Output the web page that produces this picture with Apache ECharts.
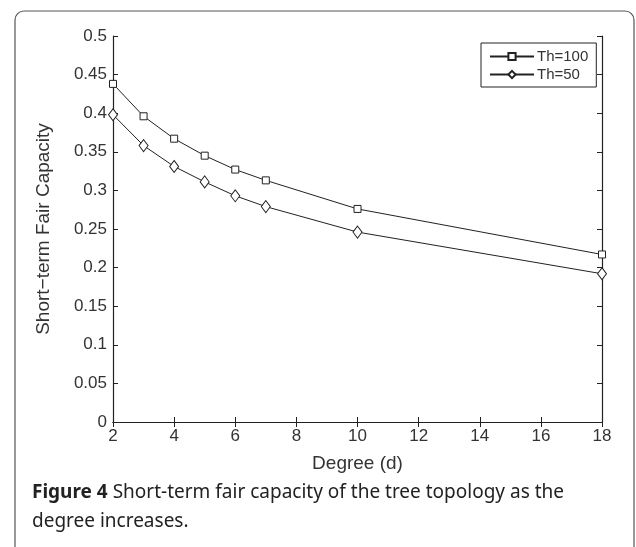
<!DOCTYPE html>
<html>
<head>
<meta charset="utf-8">
<script src="https://cdn.jsdelivr.net/npm/echarts@6/dist/echarts.min.js"></script>
<style>
  html, body { margin: 0; padding: 0; background: #fff; }
  #chart { width: 636px; height: 547px; }
</style>
</head>
<body>
<div id="chart"></div>
<script>
// degree values on the x axis
const degrees = [2, 3, 4, 5, 6, 7, 10, 18]
// short-term fair capacity, one array per threshold
const th100 = [0.438, 0.396, 0.367, 0.345, 0.327, 0.313, 0.276, 0.217]
const th50 = [0.398, 0.358, 0.331, 0.311, 0.293, 0.279, 0.246, 0.192]
const seriesNames = ['Th=100', 'Th=50']

const axisColor = '#222'
const textColor = '#333'
const labelFont = 'Liberation Sans'

const chart = echarts.init(document.getElementById('chart'), null, { renderer: 'canvas' })

function pairs(ys) {
  return degrees.map((d, i) => [d, ys[i]])
}

const tickStyle = { show: true, inside: true, length: 5, lineStyle: { color: axisColor } }

chart.setOption({
  animation: false,
  backgroundColor: '#fff',
  grid: { left: 113, top: 36, right: 34, bottom: 125 },
  legend: {
    left: 481,
    top: 43,
    orient: 'vertical',
    itemWidth: 44,
    itemHeight: 9,
    itemGap: 3,
    padding: [6, 8, 5, 8],
    borderColor: axisColor,
    borderWidth: 1,
    backgroundColor: '#fff',
    textStyle: { fontFamily: labelFont, fontSize: 15, color: textColor, padding: [0, 0, 0, -2] },
    data: seriesNames
  },
  xAxis: [{
    type: 'value',
    min: 2,
    max: 18,
    interval: 2,
    name: 'Degree (d)',
    nameLocation: 'middle',
    nameGap: 32,
    nameTextStyle: { fontFamily: labelFont, fontSize: 19, color: textColor },
    axisLine: { lineStyle: { color: axisColor, width: 1.2 } },
    axisTick: tickStyle,
    axisLabel: { fontFamily: labelFont, fontSize: 17, color: textColor, margin: 6 },
    splitLine: { show: false }
  }, {
    type: 'value',
    position: 'top',
    min: 2,
    max: 18,
    interval: 2,
    axisLine: { show: true, lineStyle: { color: axisColor, width: 1.2 } },
    axisTick: tickStyle,
    axisLabel: { show: false },
    splitLine: { show: false }
  }],
  yAxis: [{
    type: 'value',
    min: 0,
    max: 0.5,
    interval: 0.05,
    name: 'Short\u2212term Fair Capacity',
    nameLocation: 'middle',
    nameGap: 60,
    nameTextStyle: { fontFamily: labelFont, fontSize: 19, color: textColor },
    axisLine: { show: true, lineStyle: { color: axisColor, width: 1.2 } },
    axisTick: tickStyle,
    axisLabel: {
      fontFamily: labelFont, fontSize: 17, color: textColor, margin: 6,
      formatter: v => String(+v.toFixed(2))
    },
    splitLine: { show: false }
  }, {
    type: 'value',
    position: 'right',
    min: 0,
    max: 0.5,
    interval: 0.05,
    axisLine: { show: true, lineStyle: { color: axisColor, width: 1.2 } },
    axisTick: tickStyle,
    axisLabel: { show: false },
    splitLine: { show: false }
  }],
  series: [{
    name: seriesNames[0],
    type: 'line',
    data: pairs(th100),
    symbol: 'rect',
    symbolSize: 7,
    lineStyle: { color: axisColor, width: 1 },
    itemStyle: { color: '#fff', borderColor: axisColor, borderWidth: 1 },
    z: 3
  }, {
    name: seriesNames[1],
    type: 'line',
    data: pairs(th50),
    symbol: 'diamond',
    symbolSize: [9, 12],
    lineStyle: { color: axisColor, width: 1 },
    itemStyle: { color: '#fff', borderColor: axisColor, borderWidth: 1 },
    z: 3
  }],
  graphic: [{
    type: 'rect',
    shape: { x: 15, y: 11, width: 619, height: 600, r: [9, 9, 0, 0] },
    style: { fill: 'none', stroke: '#555', lineWidth: 1.2 },
    silent: true,
    z: -1
  }, {
    type: 'text',
    left: 32,
    top: 478,
    style: {
      text: '{b|Figure 4} Short-term fair capacity of the tree topology as the\ndegree increases.',
      fontFamily: 'Noto Sans',
      fontSize: 19,
      lineHeight: 29,
      fill: '#222',
      rich: {
        b: { fontFamily: 'Noto Sans', fontSize: 19, fontWeight: 'bold', fill: '#222' }
      }
    }
  }]
})
</script>
</body>
</html>
